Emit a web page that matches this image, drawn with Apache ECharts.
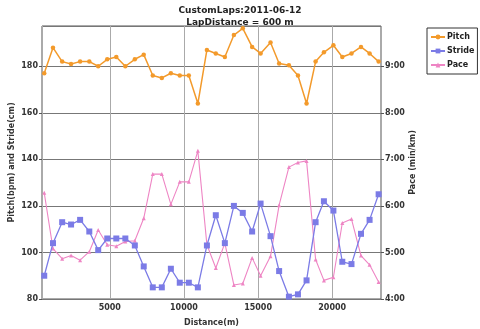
<!DOCTYPE html>
<html>
<head>
<meta charset="utf-8">
<script src="https://cdn.jsdelivr.net/npm/echarts@6/dist/echarts.min.js"></script>
<style>
  html, body { margin: 0; padding: 0; background: #fff; }
  #chart { width: 480px; height: 329px; }
</style>
</head>
<body>
<div id="chart"></div>
<script>
// Lap end distances (m)
const distance = [580, 1170, 1790, 2390, 3000, 3620, 4220, 4830, 5440, 6050,
  6690, 7290, 7900, 8510, 9120, 9720, 10330, 10940, 11550, 12150,
  12760, 13370, 13970, 14600, 15170, 15840, 16420, 17080, 17690, 18270,
  18880, 19440, 20080, 20680, 21300, 21940, 22520, 23130];

// Cadence per lap (steps/min)
const pitch = [177, 188, 182, 181, 182, 182, 180, 183, 184, 180,
  183, 185, 176, 175, 177, 176, 176, 164, 187, 185.5,
  184, 193.4, 196.3, 188.3, 185.5, 190.2, 181.2, 180.4, 176, 164,
  182, 186, 189, 184, 185.5, 188.3, 185.5, 182];

// Stride length per lap (cm)
const stride = [90, 104, 113, 112, 114, 109, 101, 106, 106, 106,
  103, 94, 85, 85, 93, 87, 87, 85, 103, 116,
  104, 120, 117, 109, 121, 107, 92, 81, 82, 88,
  113, 122, 118, 96, 95, 108, 114, 125];

// Pace per lap (seconds per km)
const paceSec = [377, 305, 292, 296, 290, 301, 329, 310, 308, 314,
  315, 344, 401, 401, 362, 391, 391, 431, 310, 280,
  312, 258, 260, 293, 270, 295, 361, 410, 416, 418,
  291, 264, 268, 338, 343, 296, 284, 262];

// Right-axis tick values (seconds per km), shown as m:ss
const paceTicks = [240, 300, 360, 420, 480, 540];

const FONT = 'DejaVu Sans';
const TXT = '#333';

function mmss(sec) {
  const m = Math.floor(sec / 60);
  const s = Math.round(sec - m * 60);
  return m + ':' + (s < 10 ? '0' : '') + s;
}

const pair = (ys) => distance.map((d, i) => [d, ys[i]]);

// Left axis spans 80..197.3; the pace axis shares the same pixel scale (20 units = 60 s)
const leftMin = 80, leftMax = 197.3;
const paceMin = paceTicks[0];
const paceMax = paceMin + (leftMax - leftMin) * 3;

const chart = echarts.init(document.getElementById('chart'), null, { renderer: 'canvas' });

chart.setOption({
  animation: false,
  backgroundColor: '#ffffff',
  title: {
    text: 'CustomLaps:2011-06-12\nLapDistance = 600 m',
    left: 'center',
    top: 0,
    itemGap: 0,
    textStyle: { fontFamily: FONT, fontWeight: 'bold', fontSize: 9, color: '#222', lineHeight: 12 }
  },
  legend: {
    orient: 'vertical',
    left: 427,
    top: 28,
    padding: [5, 3, 5, 3],
    itemGap: 6,
    itemWidth: 14,
    itemHeight: 6,
    borderColor: '#333',
    borderWidth: 1,
    backgroundColor: '#fff',
    textStyle: { fontFamily: FONT, fontWeight: 'bold', fontSize: 8, color: '#222', padding: [0, 0, 0, -3] },
    data: ['Pitch', 'Stride', 'Pace']
  },
  grid: {
    left: 42,
    right: 99,
    top: 26,
    bottom: 30,
    outerBoundsMode: 'none',
    containLabel: false,
    show: true,
    borderColor: '#555',
    borderWidth: 1,
    backgroundColor: '#fff'
  },
  xAxis: {
    type: 'value',
    min: 430,
    max: 23290,
    splitNumber: 5,
    name: 'Distance(m)',
    nameLocation: 'middle',
    nameGap: 20,
    nameTextStyle: { fontFamily: FONT, fontWeight: 'bold', fontSize: 8, color: TXT },
    axisLine: { show: false },
    axisTick: { show: false },
    axisLabel: {
      fontFamily: FONT, fontWeight: 'bold', fontSize: 8, color: TXT, margin: 5,
      showMinLabel: false, showMaxLabel: false,
      formatter: (v) => String(v)
    },
    splitLine: { show: true, lineStyle: { color: '#aaa', width: 1 } }
  },
  yAxis: [
    {
      type: 'value',
      min: leftMin,
      max: leftMax,
      interval: 20,
      name: 'Pitch(bpm) and Stride(cm)',
      nameLocation: 'middle',
      nameRotate: 90,
      nameGap: 26,
      nameMoveOverlap: false,
      nameTextStyle: { fontFamily: FONT, fontWeight: 'bold', fontSize: 8, color: TXT },
      axisLine: { show: false },
      axisTick: { show: true, length: 3, lineStyle: { color: '#555' } },
      axisLabel: {
        fontFamily: FONT, fontWeight: 'bold', fontSize: 8, color: TXT, margin: 4,
        showMaxLabel: false
      },
      splitLine: { show: true, lineStyle: { color: '#777', width: 1 } }
    },
    {
      type: 'value',
      min: paceMin,
      max: paceMax,
      interval: 60,
      position: 'right',
      name: 'Pace (min/km)',
      nameLocation: 'middle',
      nameRotate: 90,
      nameGap: 28,
      nameMoveOverlap: false,
      nameTextStyle: { fontFamily: FONT, fontWeight: 'bold', fontSize: 8, color: TXT },
      axisLine: { show: false },
      axisTick: { show: true, length: 3, lineStyle: { color: '#555' } },
      axisLabel: {
        fontFamily: FONT, fontWeight: 'bold', fontSize: 8, color: TXT, margin: 4,
        showMaxLabel: false,
        formatter: (v) => mmss(v)
      },
      splitLine: { show: false }
    }
  ],
  series: [
    {
      name: 'Pitch',
      type: 'line',
      yAxisIndex: 0,
      data: pair(pitch),
      symbol: 'circle',
      symbolSize: 4.5,
      color: '#f39a2b',
      lineStyle: { width: 1.5, color: '#f39a2b' },
      itemStyle: { color: '#f39a2b' },
      z: 4
    },
    {
      name: 'Stride',
      type: 'line',
      yAxisIndex: 0,
      data: pair(stride),
      symbol: 'rect',
      symbolSize: 6,
      color: '#7b7be6',
      lineStyle: { width: 1.3, color: '#7b7be6' },
      itemStyle: { color: '#7b7be6' },
      z: 3
    },
    {
      name: 'Pace',
      type: 'line',
      yAxisIndex: 1,
      data: pair(paceSec),
      symbol: 'triangle',
      symbolSize: 4,
      color: '#ee85c4',
      lineStyle: { width: 1.1, color: '#ee85c4' },
      itemStyle: { color: '#ee85c4' },
      z: 2
    }
  ]
});
</script>
</body>
</html>
